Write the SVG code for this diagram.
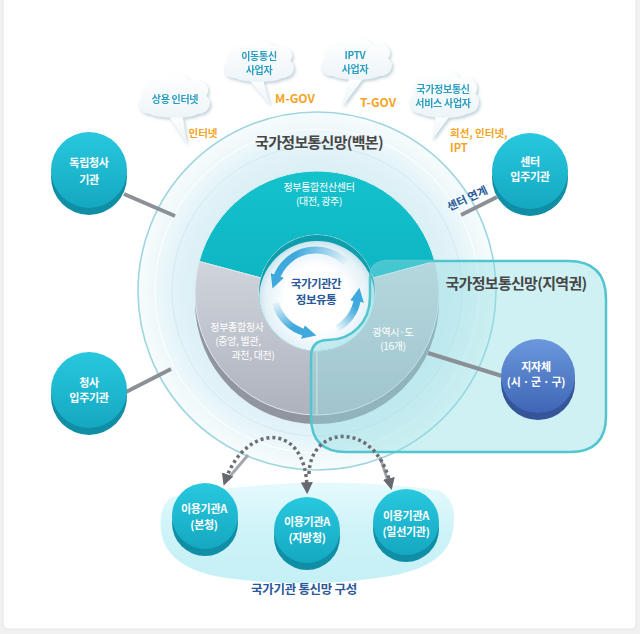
<svg xmlns="http://www.w3.org/2000/svg" width="640" height="634" viewBox="0 0 640 634">
<defs>
<style>
.t{font-family:"Noto Sans CJK KR","Noto Sans",sans-serif;text-anchor:middle}
.nodeTxt{font-size:11px;font-weight:700;fill:#ffffff;letter-spacing:-0.3px}
.donutTxt{font-size:10px;fill:#ffffff;letter-spacing:-0.3px}
.cloudTxt{font-size:10px;font-weight:700;fill:#2c9fc0;letter-spacing:-0.3px}
.orange{font-weight:700;fill:#f4a41f}
.title{font-size:15px;font-weight:700;fill:#474747;letter-spacing:-0.7px}
.navy{font-weight:700;fill:#2a5898}
.grayLine{stroke:#8b8f96;stroke-width:4;stroke-linecap:butt;fill:none}
.dotted{stroke:#6b6e75;stroke-width:3.5;stroke-dasharray:3 3;fill:none}
.cloud{fill:url(#cloudGrad)}
</style>
<linearGradient id="cloudGrad" x1="0" y1="0" x2="0" y2="1">
<stop offset="0" stop-color="#ffffff"/><stop offset="1" stop-color="#edf4f8"/>
</linearGradient>
<filter id="cshadow" x="-20%" y="-20%" width="140%" height="150%">
<feDropShadow dx="1.5" dy="2" stdDeviation="1.5" flood-color="#8fadbf" flood-opacity="0.55"/>
</filter>
<radialGradient id="ringGrad" cx="317" cy="291" r="179" gradientUnits="userSpaceOnUse">
<stop offset="0.6" stop-color="#d6edf4"/><stop offset="0.8" stop-color="#e3f3f8"/><stop offset="0.91" stop-color="#eef8fb"/><stop offset="1" stop-color="#f7fcfd"/>
</radialGradient>
<linearGradient id="tealNode" x1="0" y1="0" x2="0" y2="1">
<stop offset="0" stop-color="#28c8de"/><stop offset="1" stop-color="#14a8c1"/>
</linearGradient>
<linearGradient id="blueNode" x1="0" y1="0" x2="0" y2="1">
<stop offset="0" stop-color="#6a98dc"/><stop offset="1" stop-color="#3f66b6"/>
</linearGradient>
<linearGradient id="grayFace" x1="0" y1="0" x2="0" y2="1">
<stop offset="0" stop-color="#d0d4dc"/><stop offset="1" stop-color="#aeb2bd"/>
</linearGradient>
<linearGradient id="tealFace" x1="0" y1="0" x2="0" y2="1">
<stop offset="0" stop-color="#14c2cc"/><stop offset="1" stop-color="#0db6c3"/>
</linearGradient>
<radialGradient id="holeGrad" cx="0.5" cy="0.5" r="0.5">
<stop offset="0.55" stop-color="#ffffff"/><stop offset="0.9" stop-color="#e3f1f7"/><stop offset="1" stop-color="#c9e4ee"/>
</radialGradient>
<linearGradient id="blobGrad" x1="0" y1="0" x2="0" y2="1">
<stop offset="0" stop-color="#e6fafc"/><stop offset="0.5" stop-color="#cdf3f8"/><stop offset="1" stop-color="#c4f0f6"/>
</linearGradient>
<linearGradient id="a1" gradientUnits="userSpaceOnUse" x1="346" y1="262" x2="296" y2="252">
<stop offset="0" stop-color="#3fa9dd" stop-opacity="0.05"/><stop offset="1" stop-color="#3fa9dd"/>
</linearGradient>
<linearGradient id="a2" gradientUnits="userSpaceOnUse" x1="275" y1="302" x2="292" y2="328">
<stop offset="0" stop-color="#3fa9dd" stop-opacity="0.05"/><stop offset="1" stop-color="#3fa9dd"/>
</linearGradient>
<linearGradient id="a3" gradientUnits="userSpaceOnUse" x1="337" y1="329" x2="356" y2="308">
<stop offset="0" stop-color="#3fa9dd" stop-opacity="0.05"/><stop offset="1" stop-color="#3fa9dd"/>
</linearGradient>
<marker id="cyc" markerUnits="userSpaceOnUse" markerWidth="14" markerHeight="14" viewBox="0 0 12 12" refX="2" refY="6" orient="auto">
<path d="M0,0 L12,6 L0,12 Z" fill="#3fa9dd"/>
</marker>
<marker id="dArrow" markerUnits="userSpaceOnUse" markerWidth="12" markerHeight="12" viewBox="0 0 10 10" refX="4" refY="5" orient="auto-start-reverse">
<path d="M0,0 L10,5 L0,10 Z" fill="#66696f"/>
</marker>
<path id="cloudBody" d="M 16 41 C 4 41 0 29 9 23 C 5 12 17 4 28 9 C 33 0 51 -1 57 8 C 68 4 81 13 74 23 C 82 29 77 41 65 41 C 58 46 25 46 16 41 Z"/>
</defs>

<!-- background panel -->
<rect x="0" y="0" width="640" height="634" fill="#f1f1f1"/>
<rect x="3" y="-4" width="633" height="633" rx="4" fill="#ffffff" stroke="#e4e4e4" stroke-width="1"/>

<!-- bottom blob -->
<g id="blob">
<path d="M 172 497 Q 305 472 438 490 Q 460 500 452 535 Q 444 568 384 577 Q 306 589 226 578 Q 166 569 161 531 Q 158 506 172 497 Z" fill="url(#blobGrad)"/>
</g>

<!-- backbone ring -->
<g id="backbone">
<circle cx="317" cy="291" r="183" fill="#ffffff" opacity="0.9"/>
<circle cx="317" cy="291" r="179" fill="url(#ringGrad)" stroke="#9ed6df" stroke-width="1.6"/>
<circle cx="317" cy="291" r="162" fill="none" stroke="#ffffff" stroke-width="1.2" opacity="0.8"/>
<circle cx="317" cy="291" r="145" fill="none" stroke="#d2eaf2" stroke-width="1"/>
</g>

<!-- clouds -->
<g id="cloud-internet" filter="url(#cshadow)">
<polygon class="cloud" points="166,112 182,112 187,144"/>
<use href="#cloudBody" class="cloud" transform="translate(135,73) scale(0.9625,1)"/>
<text class="t cloudTxt" x="175" y="103">상용 인터넷</text>
</g>
<g id="cloud-mobile" filter="url(#cshadow)">
<polygon class="cloud" points="246,76 262,76 270,105"/>
<use href="#cloudBody" class="cloud" transform="translate(220,39) scale(0.95,0.956)"/>
<text class="t cloudTxt" x="259" y="60">이동통신</text>
<text class="t cloudTxt" x="259" y="74">사업자</text>
</g>
<g id="cloud-iptv" filter="url(#cshadow)">
<polygon class="cloud" points="350,75 366,75 342,107"/>
<use href="#cloudBody" class="cloud" transform="translate(317,36) scale(0.9625,0.978)"/>
<text class="t cloudTxt" x="355" y="59">IPTV</text>
<text class="t cloudTxt" x="355" y="73">사업자</text>
</g>
<g id="cloud-service" filter="url(#cshadow)">
<polygon class="cloud" points="436,113 452,113 432,140"/>
<use href="#cloudBody" class="cloud" transform="translate(406,69) scale(0.9375,1.09)"/>
<text class="t cloudTxt" x="443" y="93">국가정보통신</text>
<text class="t cloudTxt" x="443" y="107">서비스 사업자</text>
</g>

<!-- orange labels -->
<g id="service-labels">
<text class="t orange" x="203" y="137" font-size="10.5">인터넷</text>
<text class="t orange" x="295" y="103" font-size="12">M-GOV</text>
<text class="t orange" x="378" y="107" font-size="12">T-GOV</text>
<text class="t orange" x="450" y="137" font-size="10.5" style="text-anchor:start">회선, 인터넷,</text>
<text class="t orange" x="450" y="152" font-size="11" style="text-anchor:start">IPT</text>
</g>

<text class="t title" x="319" y="148">국가정보통신망(백본)</text>

<!-- donut -->
<g id="donut">
<circle cx="317" cy="302" r="122" fill="#9195a0"/>
<path d="M 199.16 270.43 A 122 122 0 0 1 434.84 270.43 L 434.84 261.43 A 122 122 0 0 0 199.16 261.43 Z" fill="#0a9fae"/>
<path d="M 199.16 261.43 A 122 122 0 0 1 434.84 261.43 L 373.02 277.99 A 58 58 0 0 0 260.98 277.99 Z" fill="url(#tealFace)" stroke="#e6f3f6" stroke-width="1"/>
<path d="M 317 415 A 122 122 0 0 1 199.16 261.43 L 260.98 277.99 A 58 58 0 0 0 317 351 Z" fill="url(#grayFace)" stroke="#e3e7ec" stroke-width="1"/>
<path d="M 434.84 261.43 A 122 122 0 0 1 317 415 L 317 351 A 58 58 0 0 0 373.02 277.99 Z" fill="url(#grayFace)" stroke="#e3e7ec" stroke-width="1"/>
<circle cx="317" cy="293" r="58" fill="#0c9eac"/>
<clipPath id="holeClip"><circle cx="317" cy="293" r="58"/></clipPath>
<circle cx="317" cy="299" r="58" fill="url(#holeGrad)" clip-path="url(#holeClip)"/>
<text class="t donutTxt" x="319" y="191">정부통합전산센터</text>
<text class="t donutTxt" x="319" y="205">(대전, 광주)</text>
<text class="t donutTxt" x="237" y="331">정부종합청사</text>
<text class="t donutTxt" x="238" y="345">(중앙, 별관,</text>
<text class="t donutTxt" x="253" y="359">과천, 대전)</text>
</g>

<!-- circular flow -->
<g id="flow-center">
<path d="M 345.7 262.3 A 42 42 0 0 0 276.5 277.6" fill="none" stroke="url(#a1)" stroke-width="7" marker-end="url(#cyc)"/>
<path d="M 275.4 302.9 A 42 42 0 0 0 305.1 332.6" fill="none" stroke="url(#a2)" stroke-width="7" marker-end="url(#cyc)"/>
<path d="M 337 328.4 A 42 42 0 0 0 357.4 299.3" fill="none" stroke="url(#a3)" stroke-width="7" marker-end="url(#cyc)"/>
<text class="t navy" x="316" y="288" font-size="11.5" letter-spacing="-0.5">국가기관간</text>
<text class="t navy" x="316" y="304" font-size="11.5" letter-spacing="-0.5">정보유통</text>
</g>

<!-- regional network box -->
<g id="regional">
<path d="M 388 261 H 568 Q 606 261 606 299 V 416 Q 606 452 570 452 H 346 Q 311 452 311 417 V 357 Q 311 340 328 340 C 352 340 370 322 370 297 V 279 Q 370 261 388 261 Z" fill="#8fdde3" fill-opacity="0.42" stroke="#52c5cf" stroke-width="2.5"/>
<text class="t title" x="516" y="289">국가정보통신망(지역권)</text>
<text class="t donutTxt" x="393" y="336">광역시·도</text>
<text class="t donutTxt" x="393" y="350">(16개)</text>
</g>

<!-- connectors -->
<g id="connectors">
<line class="grayLine" x1="124" y1="194" x2="175" y2="216"/>
<line class="grayLine" x1="126" y1="392" x2="171" y2="369"/>
<line class="grayLine" x1="461" y1="215" x2="497" y2="197"/>
<line class="grayLine" x1="428" y1="353" x2="502" y2="376"/>
<line x1="248" y1="455" x2="226" y2="481" stroke="#a3a7ae" stroke-width="3"/>
<line x1="380" y1="457" x2="389" y2="484" stroke="#a3a7ae" stroke-width="3"/>
<path class="dotted" d="M 226 479 C 245 425 305 420 307 487" marker-start="url(#dArrow)" marker-end="url(#dArrow)"/>
<path class="dotted" d="M 309 474 C 310 425 375 420 390 483" marker-end="url(#dArrow)"/>
<text class="t navy" x="469" y="202" font-size="11" transform="rotate(-25 469 202)">센터 연계</text>
</g>

<!-- nodes -->
<g id="node-independent">
<circle cx="89" cy="177" r="38" fill="#0f8ea5"/>
<circle cx="89" cy="170" r="38" fill="url(#tealNode)"/>
<text class="t nodeTxt" x="89" y="167">독립청사</text>
<text class="t nodeTxt" x="89" y="184">기관</text>
</g>
<g id="node-tenant">
<circle cx="89" cy="397" r="38" fill="#0f8ea5"/>
<circle cx="89" cy="390" r="38" fill="url(#tealNode)"/>
<text class="t nodeTxt" x="89" y="387">청사</text>
<text class="t nodeTxt" x="89" y="402">입주기관</text>
</g>
<g id="node-center">
<circle cx="530" cy="178" r="38" fill="#0f8ea5"/>
<circle cx="530" cy="171" r="38" fill="url(#tealNode)"/>
<text class="t nodeTxt" x="530" y="166">센터</text>
<text class="t nodeTxt" x="530" y="181">입주기관</text>
</g>
<g id="node-local">
<circle cx="538" cy="383" r="37" fill="#34559a"/>
<circle cx="538" cy="376" r="37" fill="url(#blueNode)"/>
<text class="t nodeTxt" x="536" y="371">지자체</text>
<text class="t nodeTxt" x="536" y="386">(시 · 군 · 구)</text>
</g>
<g id="node-hq">
<circle cx="205" cy="523" r="33" fill="#0f8ea5"/>
<circle cx="205" cy="516" r="33" fill="url(#tealNode)"/>
<text class="t nodeTxt" x="204" y="513">이용기관A</text>
<text class="t nodeTxt" x="204" y="529">(본청)</text>
</g>
<g id="node-regional-office">
<circle cx="307" cy="537" r="33" fill="#0f8ea5"/>
<circle cx="307" cy="530" r="33" fill="url(#tealNode)"/>
<text class="t nodeTxt" x="307" y="526">이용기관A</text>
<text class="t nodeTxt" x="307" y="542">(지방청)</text>
</g>
<g id="node-field">
<circle cx="406" cy="529" r="33" fill="#0f8ea5"/>
<circle cx="406" cy="522" r="33" fill="url(#tealNode)"/>
<text class="t nodeTxt" x="406" y="520">이용기관A</text>
<text class="t nodeTxt" x="406" y="536">(일선기관)</text>
</g>

<text class="t navy" x="304" y="594" font-size="12.5" letter-spacing="-0.3">국가기관 통신망 구성</text>
</svg>
